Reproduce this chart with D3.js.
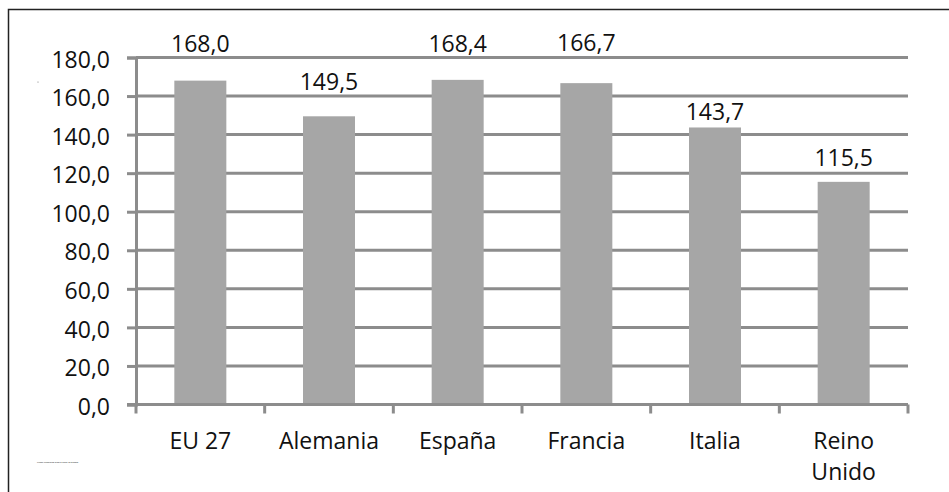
<!DOCTYPE html>
<html>
<head>
<meta charset="utf-8">
<script src="https://cdn.jsdelivr.net/npm/d3@7"></script>
<style>
body { margin: 0; background: #fff; }
text { font-family: "Open Sans", "Noto Sans", sans-serif; fill: #111; }
</style>
</head>
<body>
<svg id="chart" width="949" height="492"></svg>
<script>
var categories = ["EU 27", "Alemania", "España", "Francia", "Italia", "Reino Unido"];
var values = [168.0, 149.5, 168.4, 166.7, 143.7, 115.5];
var yTicks = [0, 20, 40, 60, 80, 100, 120, 140, 160, 180];
// gap between bar top and label baseline, as placed in the original
var labelGap = [29, 26, 28, 32, 7, 16];

var svg = d3.select("#chart");
var plotLeft = 136, plotRight = 908, plotTop = 57.5, plotBottom = 404.5;

// outer frame
svg.append("rect")
	.attr("x", 8.5).attr("y", 9.5)
	.attr("width", 960).attr("height", 500)
	.attr("fill", "none").attr("stroke", "#222").attr("stroke-width", 1.5);

var xt = d3.scaleBand().domain(categories).range([plotLeft, plotRight]);
var y = d3.scaleLinear().domain([0, 180]).range([plotBottom, plotTop]);

var fmt = function(v){ return v.toFixed(1).replace(".", ","); };

// gridlines
svg.append("g").selectAll("line")
	.data(yTicks.slice(1))
	.enter().append("line")
	.attr("x1", plotLeft).attr("x2", plotRight)
	.attr("y1", function(d){ return y(d); }).attr("y2", function(d){ return y(d); })
	.attr("stroke", "#8c8c8c").attr("stroke-width", 3);

// bars
svg.append("g").selectAll("rect")
	.data(values)
	.enter().append("rect")
	.attr("x", function(d, i){ return xt(categories[i]) + xt.bandwidth()/2 - 26; })
	.attr("width", 52)
	.attr("y", function(d){ return y(d); })
	.attr("height", function(d){ return plotBottom - y(d); })
	.attr("fill", "#a6a6a6");

// value labels
svg.append("g").selectAll("text")
	.data(values)
	.enter().append("text")
	.attr("x", function(d, i){ return xt(categories[i]) + xt.bandwidth()/2; })
	.attr("y", function(d, i){ return y(d) - labelGap[i]; })
	.attr("text-anchor", "middle")
	.style("font-size", "23px")
	.text(fmt);

// y axis
var yAxis = svg.append("g")
	.attr("transform", "translate(" + plotLeft + ",0)")
	.call(d3.axisLeft(y).tickValues(yTicks).tickSize(9).tickPadding(17).tickFormat(fmt));
yAxis.select(".domain").attr("stroke", "#8c8c8c").attr("stroke-width", 3);
yAxis.selectAll(".tick line").attr("stroke", "#8c8c8c").attr("stroke-width", 3);
yAxis.selectAll(".tick text").style("font-size", "23px").attr("dy", "0.42em")
	.style("font-family", "'Open Sans', sans-serif").attr("fill", "#111");

// x axis line and tick marks
svg.append("line")
	.attr("x1", plotLeft - 9).attr("x2", plotRight)
	.attr("y1", plotBottom).attr("y2", plotBottom)
	.attr("stroke", "#8c8c8c").attr("stroke-width", 3);
svg.append("g").selectAll("line")
	.data(d3.range(categories.length + 1))
	.enter().append("line")
	.attr("x1", function(i){ return plotLeft + i * xt.step(); })
	.attr("x2", function(i){ return plotLeft + i * xt.step(); })
	.attr("y1", plotBottom).attr("y2", plotBottom + 9)
	.attr("stroke", "#8c8c8c").attr("stroke-width", 3);

// category labels
svg.append("g").selectAll("text")
	.data(categories)
	.enter().append("text")
	.attr("text-anchor", "middle")
	.style("font-size", "23px")
	.each(function(d){
		var t = d3.select(this);
		var cx = xt(d) + xt.bandwidth()/2;
		var parts = d == "Reino Unido" ? ["Reino", "Unido"] : [d];
		parts.forEach(function(p, k){
			t.append("tspan").attr("x", cx).attr("y", 449 + k * 31).text(p);
		});
	});

// tiny source note
svg.append("text")
	.attr("x", 37).attr("y", 463)
	.style("font-size", "1.9px").attr("fill", "#333")
	.text("Fuente: elaboración propia a partir de Eurostat");
svg.append("circle").attr("cx", 38).attr("cy", 82).attr("r", 0.6).attr("fill", "#777");
</script>
</body>
</html>
